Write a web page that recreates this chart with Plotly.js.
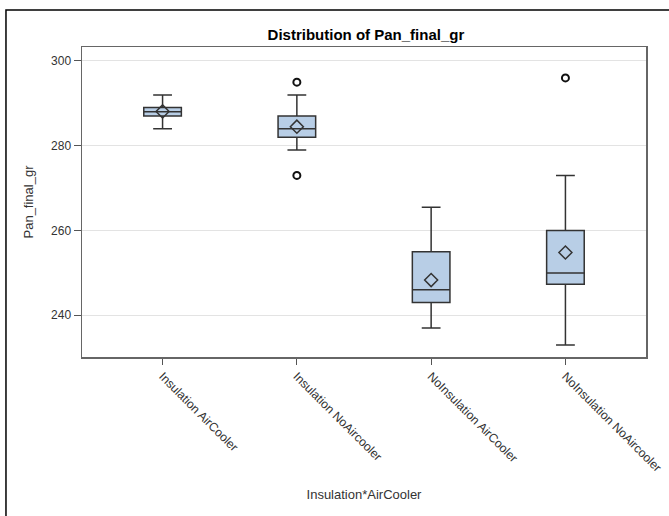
<!DOCTYPE html>
<html>
<head>
<meta charset="utf-8">
<script src="https://cdn.plot.ly/plotly-3.0.1.min.js"></script>
<style>html,body{margin:0;padding:0;background:#fff;}#chart{width:669px;height:516px;}</style>
</head>
<body>
<div id="chart"></div>
<script>
const categories = ["Insulation AirCooler", "Insulation NoAircooler", "NoInsulation AirCooler", "NoInsulation NoAircooler"];
const q1Values = [287, 282, 243, 247.3];
const medianValues = [288, 284, 246, 250];
const q3Values = [289, 287, 255, 260];
const lowerWhisker = [284, 279, 237, 233];
const upperWhisker = [292, 292, 265.5, 273];
const meanValues = [288.1, 284.5, 248.3, 254.8];
const outlierCategories = ["Insulation NoAircooler", "Insulation NoAircooler", "NoInsulation NoAircooler"];
const outlierValues = [295, 273, 296];
const yTickValues = [240, 260, 280, 300];

const FONT = "Liberation Sans, Arial, sans-serif";

const traces = [
  {
    type: "box",
    x: categories,
    q1: q1Values,
    median: medianValues,
    q3: q3Values,
    lowerfence: lowerWhisker,
    upperfence: upperWhisker,
    boxpoints: false,
    fillcolor: "#B8CEE6",
    line: {color: "#333333", width: 1.5},
    whiskerwidth: 0.5,
    showlegend: false
  },
  {
    type: "scatter",
    mode: "markers",
    x: categories,
    y: meanValues,
    marker: {symbol: "diamond-open", size: 10, color: "#333333", line: {width: 1.5, color: "#333333"}},
    showlegend: false
  },
  {
    type: "scatter",
    mode: "markers",
    x: outlierCategories,
    y: outlierValues,
    marker: {symbol: "circle-open", size: 7, color: "#111111", line: {width: 2, color: "#111111"}},
    showlegend: false
  }
];

const layout = {
  width: 669,
  height: 516,
  margin: {l: 82, r: 23, t: 47, b: 159},
  paper_bgcolor: "#ffffff",
  plot_bgcolor: "#ffffff",
  font: {family: FONT, size: 12, color: "#333333"},
  boxgap: 0.6,
  title: {
    text: "<b>Distribution of Pan_final_gr</b>",
    font: {family: FONT, size: 15, color: "#000000"},
    x: 0.547, xanchor: "center",
    y: 0.932, yanchor: "middle"
  },
  xaxis: {
    type: "category",
    categoryorder: "array",
    categoryarray: categories,
    range: [-0.6, 3.6],
    tickangle: 45,
    ticks: "outside",
    ticklen: 6,
    tickcolor: "#555555",
    tickfont: {family: FONT, size: 12.2, color: "#333333"},
    showline: true,
    mirror: true,
    linecolor: "#666666",
    linewidth: 1.5,
    showgrid: false,
    zeroline: false,
    automargin: false,
    title: {text: "Insulation*AirCooler", font: {family: FONT, size: 13, color: "#333333"}, standoff: 16}
  },
  yaxis: {
    range: [230.15, 303.3],
    tickvals: yTickValues,
    ticktext: yTickValues.map(String),
    ticks: "outside",
    ticklen: 7,
    tickcolor: "#555555",
    tickfont: {family: FONT, size: 12, color: "#333333"},
    showline: true,
    mirror: true,
    linecolor: "#666666",
    linewidth: 1.5,
    showgrid: true,
    gridcolor: "#e3e3e3",
    gridwidth: 1,
    zeroline: false,
    automargin: false,
    title: {text: "Pan_final_gr", font: {family: FONT, size: 13, color: "#333333"}, standoff: 14}
  },
  shapes: [
    {
      type: "rect", xref: "paper", yref: "paper",
      x0: -0.1348, x1: 1.07, y0: -0.6, y1: 1.1194,
      line: {color: "#000000", width: 1.5},
      layer: "below"
    }
  ]
};

Plotly.newPlot("chart", traces, layout, {displayModeBar: false, staticPlot: true});
</script>
</body>
</html>
